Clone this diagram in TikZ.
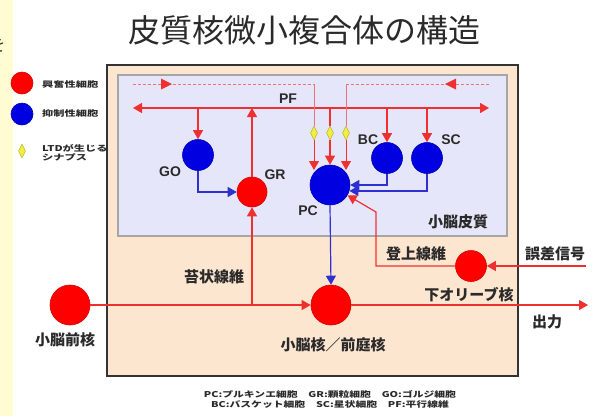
\documentclass[tikz,border=0pt]{standalone}
\usepackage{fontspec}
\setmainfont{Noto Sans CJK JP}
\newfontfamily\lat{Liberation Sans}
\usetikzlibrary{arrows.meta,shapes.geometric}
\definecolor{peach}{HTML}{FDE6D0}
\definecolor{lav}{HTML}{E6E6FA}
\definecolor{ylw}{HTML}{FFFCD4}
\definecolor{rd}{HTML}{FF0000}
\definecolor{rline}{HTML}{EE3030}
\definecolor{dline}{HTML}{F07080}
\definecolor{bl}{HTML}{0000E0}
\definecolor{bline}{HTML}{3030D0}
\definecolor{dia}{HTML}{F2F03A}
\definecolor{txt}{HTML}{2A2A2A}
\begin{document}
\begin{tikzpicture}[x=1pt,y=-1pt,
  exc/.style={circle,fill=rd,draw=rd!85!black,line width=0.6pt,inner sep=0pt},
  inh/.style={circle,fill=bl,draw=bl!80!black,line width=0.6pt,inner sep=0pt},
  tip/.style={-{Triangle[length=9pt,width=10pt]}},
  rarr/.style={draw=rline,line width=1.2pt,tip},
  barr/.style={draw=bline,line width=1.2pt,tip},
  thin/.style={draw=dline,line width=1pt},
  syn/.style={diamond,fill=dia,draw=olive!70,line width=0.4pt,inner sep=0pt,minimum width=7pt,minimum height=14pt},
  lbl/.style={font=\bfseries\fontsize{15}{15}\selectfont,text=txt,inner sep=0pt},
  ll/.style={font=\lat\bfseries\fontsize{14}{14}\selectfont,text=txt,inner sep=0pt},
  leg/.style={font=\bfseries\fontsize{8}{9}\selectfont,text=txt,inner sep=0pt,align=left}
]
\useasboundingbox (0,0) rectangle (599,416);
\fill[white] (0,0) rectangle (599,416);
\fill[ylw] (0,0) rectangle (13,416);
\begin{scope}
  \clip (0,0) rectangle (13,416);
  \node[font=\fontsize{17}{17}\selectfont,text=txt,inner sep=0pt] (cut) at (-3,45) {を};
\end{scope}

% title
\node[font=\fontsize{32}{32}\selectfont,text=txt,inner sep=0pt] (title) at (304,30) {皮質核微小複合体の構造};

% boxes
\draw[fill=peach,draw=black!80,line width=2.2pt] (107,65) rectangle (518,376);
\draw[fill=lav,draw=gray!70,line width=1.2pt] (118,75) rectangle (507,236);

% legend
\node[exc,minimum size=22pt] (lgE) at (22,83) {};
\node[inh,minimum size=22pt] (lgI) at (22,114) {};
\node[syn] (lgS) at (22,151) {};
\node[leg,anchor=west] (lgEt) at (42,84) {\scalebox{1.4}[1]{興奮性細胞}};
\node[leg,anchor=west] (lgIt) at (42,113) {\scalebox{1.4}[1]{抑制性細胞}};
\node[leg,anchor=west] (lgSt) at (42,153) {\scalebox{1.4}[1]{LTDが生じる}\\\scalebox{1.4}[1]{シナプス}};

% cells
\node[inh,minimum size=31pt] (GO) at (198,155) {};
\node[exc,minimum size=30pt] (GR) at (252,192) {};
\node[inh,minimum size=40pt] (PC) at (330,185) {};
\node[inh,minimum size=31pt] (BC) at (387,158) {};
\node[inh,minimum size=31pt] (SC) at (427,158) {};
\node[exc,minimum size=31pt] (IO) at (471,266) {};
\node[exc,minimum size=40pt] (CN) at (331,305) {};
\node[exc,minimum size=40pt] (PN) at (70,305) {};

% synapses
\node[syn] (s1) at (314,133) {};
\node[syn] (s2) at (330,133) {};
\node[syn] (s3) at (346,133) {};

% coordinates
\coordinate (pfL) at (133,108);
\coordinate (pfR) at (489,108);
\coordinate (dL) at (133,84);
\coordinate (dLc) at (314,84);
\coordinate (dR) at (489,84);
\coordinate (dRc) at (346,84);
\coordinate (mf) at (252,305);
\coordinate (cf1) at (376,266);
\coordinate (cf2) at (376,212);
\coordinate (err) at (586,266);
\coordinate (out) at (588,305);

% parallel fibre
\draw[draw=rline,line width=1.5pt,{Triangle[length=9pt,width=10pt]}-{Triangle[length=9pt,width=10pt]}] (pfL) -- (pfR);
\draw[dline,line width=0.9pt,dash pattern=on 3pt off 2pt] (dL) -- (dLc);
\draw[dline,line width=0.9pt,dash pattern=on 3pt off 2pt] (dR) -- (dRc);
\fill[rline] (161,78.5) -- (172,84) -- (161,89.5) -- cycle;
\fill[rline] (456,78.5) -- (445,84) -- (456,89.5) -- cycle;
\draw[thin] (dLc) -- (s1.north);
\draw[thin,tip,draw=rline] (s1.south) -- (314,170);
\draw[thin] (dRc) -- (s3.north);
\draw[thin,tip,draw=rline] (s3.south) -- (346,170);
\draw[rarr] (s2.south) -- (PC.north);
\draw[draw=rline,line width=1.2pt] (330,108) -- (s2.north);

\draw[rarr] (GO |- pfL) -- (GO.north);
\draw[rarr] (BC |- pfL) -- (BC.north);
\draw[rarr] (SC |- pfL) -- (SC.north);
\draw[rarr] (GR.north) -- (GR |- pfL);

% inhibitory connections
\draw[barr] (GO.south) |- (GR.west);
\draw[barr] (BC.south) |- (PC.east);
\draw[barr] (SC.south) |- (PC.-17);
\draw[barr] (PC.south) -- (CN.north);

% mossy fibre / climbing fibre / output
\draw[rarr] (PN.east) -- (CN.west);
\draw[rarr] (mf) -- (GR.south);
\draw[rarr] (CN.east) -- (out);
\draw[rarr] (err) -- (IO.east);
\draw[rarr] (IO.west) -- (cf1) -- (cf2) -- (PC);

% labels
\node[ll] (tPF) at (288,99) {PF};
\node[ll] (tGO) at (170,172) {GO};
\node[ll] (tGR) at (275,175) {GR};
\node[ll] (tPC) at (308,211) {PC};
\node[ll] (tBC) at (368,140) {BC};
\node[ll] (tSC) at (451,140) {SC};
\node[lbl] (tCx) at (458,222) {小脳皮質};
\node[lbl] (tCF) at (416,254) {登上線維};
\node[lbl] (tErr) at (555,254) {誤差信号};
\node[lbl] (tMF) at (214,277) {苔状線維};
\node[lbl] (tIO) at (469,295) {下オリーブ核};
\node[lbl] (tOut) at (547,322) {出力};
\node[lbl] (tCN) at (333,345) {小脳核／前庭核};
\node[lbl] (tPN) at (65,340) {小脳前核};

% abbreviations
\node[leg] (ab1) at (330,394) {\scalebox{1.35}[1]{PC:プルキンエ細胞\quad GR:顆粒細胞\quad GO:ゴルジ細胞}};
\node[leg] (ab2) at (330,404) {\scalebox{1.35}[1]{BC:バスケット細胞\quad SC:星状細胞\quad PF:平行線維}};
\end{tikzpicture}
\end{document}
